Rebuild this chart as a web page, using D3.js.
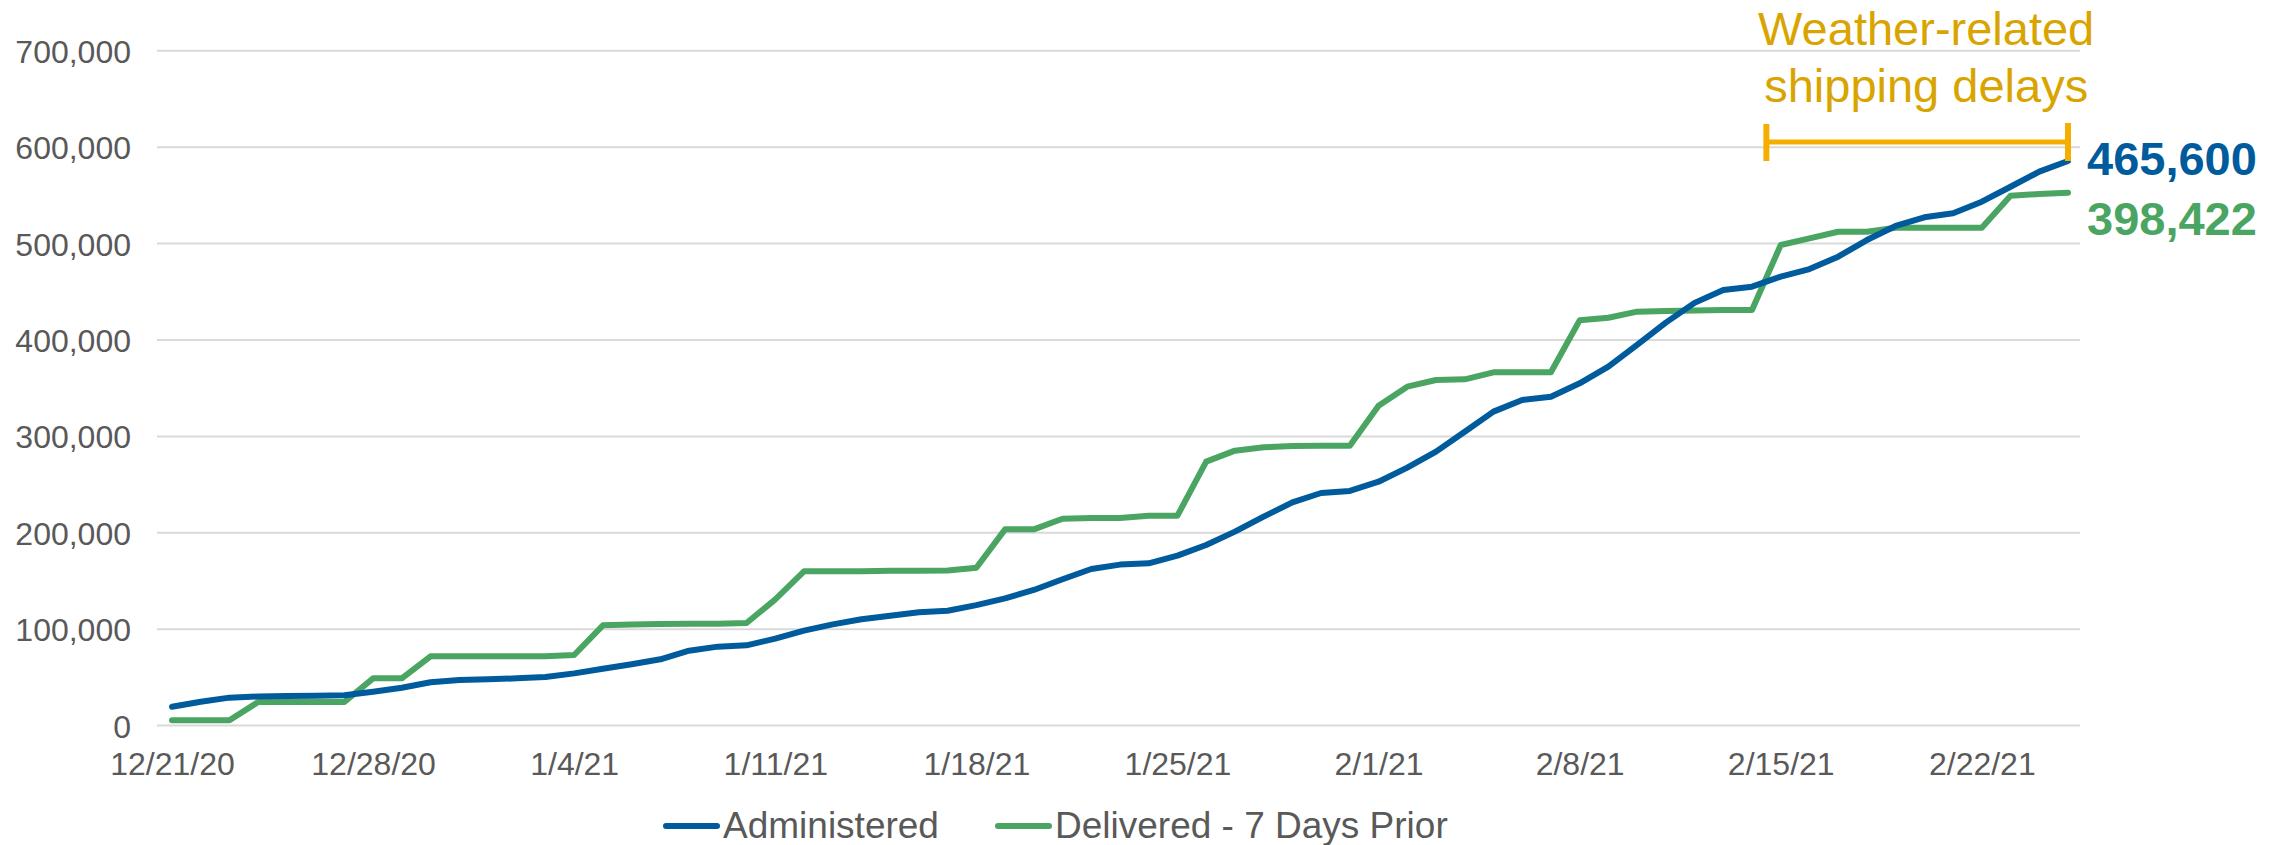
<!DOCTYPE html>
<html>
<head>
<meta charset="utf-8">
<script src="https://cdn.jsdelivr.net/npm/d3@7"></script>
<style>
  html, body { margin: 0; padding: 0; background: #ffffff; }
  svg { display: block; font-family: "Liberation Sans", Arial, sans-serif; }
</style>
</head>
<body>
<svg id="chart" width="2284" height="845"></svg>
<script>
// ---- Data ----
const startDate = "2020-12-21";
const dayCount = 67; // 12/21/20 .. 2/25/21 daily
const administered = [
  19600, 24800, 29000, 30200, 30700, 31000, 31500, 35200, 39300, 44900,
  47300, 48000, 49000, 50400, 54200, 59000, 63600, 68800, 77700, 81900,
  83300, 90200, 98500, 105000, 110300, 114000, 117500, 119200, 125000, 132000,
  140700, 151800, 162400, 167000, 168300, 176300, 187300, 201200, 216700, 231600,
  241300, 243400, 253000, 267600, 284200, 304900, 325700, 337800, 341200, 355100,
  372300, 394900, 418000, 438500, 451900, 455300, 465700, 473600, 486400, 503700,
  518300, 527300, 531400, 543500, 559000, 574600, 585700
];
const delivered = [
  5500, 5500, 5500, 24500, 24500, 24500, 24500, 49000, 49000, 71900,
  72000, 72000, 72000, 72000, 73200, 104000, 105000, 105400, 105700, 105700,
  106400, 131000, 160000, 160000, 160000, 160700, 160700, 161000, 163800, 203600,
  203600, 214600, 215400, 215400, 217800, 217800, 273800, 285200, 288700, 290000,
  290200, 290400, 331900, 351600, 358500, 359200, 366500, 366500, 366500, 420400,
  423100, 429400, 430100, 430600, 431100, 431100, 498500, 505400, 512300, 512300,
  516500, 516500, 516500, 516500, 549700, 551400, 552800
];
const seriesNames = ["Administered", "Delivered - 7 Days Prior"];
const xTickLabels = ["12/21/20","12/28/20","1/4/21","1/11/21","1/18/21","1/25/21","2/1/21","2/8/21","2/15/21","2/22/21"];
const yTicks = [0, 100000, 200000, 300000, 400000, 500000, 600000, 700000];
const endLabels = ["465,600", "398,422"];
const annotationLines = ["Weather-related", "shipping delays"];
const annotationSpan = ["2021-02-14T12:00", "2021-02-25T00:00"];

// ---- Build dates ----
const parse = d3.timeParse("%Y-%m-%d");
const d0 = parse(startDate);
const dates = d3.range(dayCount).map(i => d3.timeDay.offset(d0, i));
const tickDates = d3.range(xTickLabels.length).map(i => d3.timeDay.offset(d0, i * 7));

const colors = { admin: "#005B9C", deliv: "#4BA562", gold: "#D9A400", bar: "#F5AE00", text: "#595959", grid: "#D9D9D9" };

const svg = d3.select("#chart");

const x = d3.scaleTime().domain([dates[0], dates[dates.length - 1]]).range([172, 2068]);
const y = d3.scaleLinear().domain([0, 700000]).range([725.6, 50.8]);

// gridlines
svg.append("g").selectAll("line").data(yTicks).join("line")
  .attr("x1", 157).attr("x2", 2080)
  .attr("y1", d => y(d)).attr("y2", d => y(d))
  .attr("stroke", colors.grid).attr("stroke-width", 2);

// y axis labels
const yAxis = d3.axisLeft(y).tickValues(yTicks).tickFormat(d3.format(",")).tickSize(0).tickPadding(0);
const gy = svg.append("g").attr("transform", "translate(131,0)").call(yAxis);
gy.select(".domain").remove();
gy.selectAll("text").attr("font-size", 32).attr("fill", colors.text)
  .attr("font-family", "'Liberation Sans', Arial, sans-serif").attr("dy", "0.36em");

// x axis labels
const xAxis = d3.axisBottom(x).tickValues(tickDates).tickFormat((d, i) => xTickLabels[i]).tickSize(0).tickPadding(0);
const gx = svg.append("g").attr("transform", "translate(0,752)").call(xAxis);
gx.select(".domain").remove();
gx.selectAll("text").attr("font-size", 32).attr("fill", colors.text)
  .attr("font-family", "'Liberation Sans', Arial, sans-serif").attr("dy", "0.71em");

// lines
const line = d3.line().x((d, i) => x(dates[i])).y(d => y(d));
svg.append("path").datum(delivered).attr("d", line)
  .attr("fill", "none").attr("stroke", colors.deliv).attr("stroke-width", 6)
  .attr("stroke-linejoin", "round").attr("stroke-linecap", "round");
svg.append("path").datum(administered).attr("d", line)
  .attr("fill", "none").attr("stroke", colors.admin).attr("stroke-width", 6)
  .attr("stroke-linejoin", "round").attr("stroke-linecap", "round");

// end labels
const lastX = x(dates[dates.length - 1]);
svg.append("text").attr("x", lastX + 19).attr("y", 175)
  .attr("font-size", 47).attr("font-weight", "bold").attr("fill", colors.admin).text(endLabels[0]);
svg.append("text").attr("x", lastX + 19).attr("y", 235)
  .attr("font-size", 47).attr("font-weight", "bold").attr("fill", colors.deliv).text(endLabels[1]);

// annotation bracket
const ax1 = x(new Date(annotationSpan[0])), ax2 = x(new Date(annotationSpan[1]));
const ay = 142;
const ag = svg.append("g").attr("stroke", colors.bar);
ag.append("line").attr("x1", ax1).attr("x2", ax2).attr("y1", ay).attr("y2", ay).attr("stroke-width", 5);
ag.append("line").attr("x1", ax1).attr("x2", ax1).attr("y1", 124).attr("y2", 161).attr("stroke-width", 6);
ag.append("line").attr("x1", ax2).attr("x2", ax2).attr("y1", 123).attr("y2", 161).attr("stroke-width", 6);

svg.selectAll("text.anno").data(annotationLines).join("text").attr("class", "anno")
  .attr("x", (ax1 + ax2) / 2 + 9).attr("y", (d, i) => 45 + i * 57)
  .attr("text-anchor", "middle").attr("font-size", 47).attr("fill", colors.gold).text(d => d);

// legend
const legend = svg.append("g");
const legItems = [
  { name: seriesNames[0], color: colors.admin, x: 666 },
  { name: seriesNames[1], color: colors.deliv, x: 998 }
];
legItems.forEach(it => {
  legend.append("line").attr("x1", it.x).attr("x2", it.x + 51).attr("y1", 826).attr("y2", 826)
    .attr("stroke", it.color).attr("stroke-width", 6).attr("stroke-linecap", "round");
  legend.append("text").attr("x", it.x + 57).attr("y", 838).attr("font-size", 37)
    .attr("fill", colors.text).text(it.name);
});
</script>
</body>
</html>
